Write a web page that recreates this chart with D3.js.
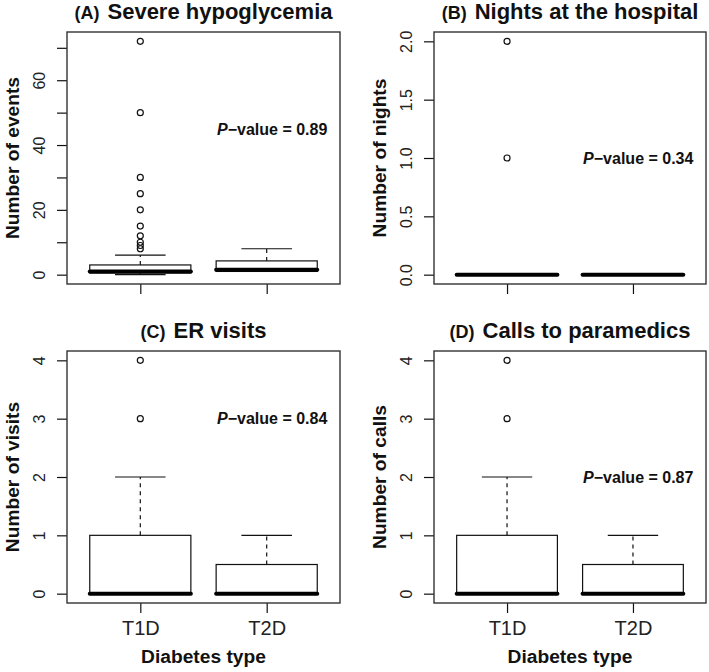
<!DOCTYPE html>
<html>
<head>
<meta charset="utf-8">
<script src="https://cdn.jsdelivr.net/npm/d3@7"></script>
<style>
  html, body { margin: 0; padding: 0; background: #fff; }
  svg { display: block; font-family: "Liberation Sans", Arial, Helvetica, sans-serif; }
</style>
</head>
<body>
<svg id="chart" width="709" height="672"></svg>
<script>
// ---- data ----
const groups = ["T1D", "T2D"];
const letters = ["(A)", "(B)", "(C)", "(D)"];
const titles = ["Severe hypoglycemia", "Nights at the hospital", "ER visits", "Calls to paramedics"];
const yLabels = ["Number of events", "Number of nights", "Number of visits", "Number of calls"];
const pValues = ["0.89", "0.34", "0.84", "0.87"];
const pValueY = [45, 1, 3, 2];
// box stats per group: [lower whisker, Q1, median, Q3, upper whisker]
const hypoStats = [[0, 0.5, 1, 3, 6], [1, 1, 1.5, 4.25, 8]];
const hypoOutliers = [[72, 50, 30, 25, 20, 15, 12, 10, 9, 8], []];
const nightsStats = [[0, 0, 0, 0, 0], [0, 0, 0, 0, 0]];
const nightsOutliers = [[2, 1], []];
const erStats = [[0, 0, 0, 1, 2], [0, 0, 0, 0.5, 1]];
const erOutliers = [[4, 3], []];
const callsStats = [[0, 0, 0, 1, 2], [0, 0, 0, 0.5, 1]];
const callsOutliers = [[4, 3], []];
const yTicks = [[0, 10, 20, 30, 40, 50, 60, 70], [0, 0.5, 1, 1.5, 2], [0, 1, 2, 3, 4], [0, 1, 2, 3, 4]];
const yTickLabels = [["0", "", "20", "", "40", "", "60", ""], ["0.0", "0.5", "1.0", "1.5", "2.0"], ["0", "1", "2", "3", "4"], ["0", "1", "2", "3", "4"]];
const yMax = [72, 2, 4, 4];

const statsList = [hypoStats, nightsStats, erStats, callsStats];
const outList = [hypoOutliers, nightsOutliers, erOutliers, callsOutliers];

// ---- layout ----
const panelX = [[67, 340], [434, 706], [67, 340], [434, 706]];
const panelY = [[32, 284], [32, 284], [351, 603], [351, 603]];
const showXLabels = [false, false, true, true];

const svg = d3.select("#chart");
const ink = "#111";

for (let p = 0; p < 4; p++) {
  const [x0, x1] = panelX[p];
  const [y0, y1] = panelY[p];
  const ext = yMax[p] * 0.04;
  const x = d3.scaleLinear().domain([0.42, 2.58]).range([x0, x1]);
  const y = d3.scaleLinear().domain([-ext, yMax[p] + ext]).range([y1, y0]);
  const g = svg.append("g");

  // y axis
  const yAxis = d3.axisLeft(y).tickValues(yTicks[p]).tickSize(10).tickSizeOuter(0)
    .tickFormat((d, i) => yTickLabels[p][i]);
  const ya = g.append("g").attr("transform", `translate(${x0},0)`).call(yAxis);
  ya.select(".domain").remove();
  ya.selectAll(".tick line").attr("stroke", ink).attr("stroke-width", 1.2);
  ya.selectAll(".tick text")
    .attr("x", 0).attr("dy", null)
    .attr("transform", "translate(-22,0) rotate(-90)")
    .attr("text-anchor", "middle")
    .attr("font-size", 16).attr("fill", "#222")
    .attr("font-family", "Liberation Sans, Arial, sans-serif");

  // x axis
  const xAxis = d3.axisBottom(x).tickValues([1, 2]).tickSize(10).tickSizeOuter(0)
    .tickFormat((d, i) => showXLabels[p] ? groups[i] : "");
  const xa = g.append("g").attr("transform", `translate(0,${y1})`).call(xAxis);
  xa.select(".domain").remove();
  xa.selectAll(".tick line").attr("stroke", ink).attr("stroke-width", 1.2);
  xa.selectAll(".tick text").attr("y", 32).attr("dy", null)
    .attr("font-size", 20).attr("fill", "#222")
    .attr("font-family", "Liberation Sans, Arial, sans-serif");

  // boxes
  statsList[p].forEach((s, i) => {
    const cx = x(i + 1);
    const [lo, q1, med, q3, hi] = s;
    const hw = x(1.4) - x(1);
    const cw = x(1.2) - x(1);
    // whiskers
    if (hi > q3) {
      g.append("line").attr("x1", cx).attr("x2", cx).attr("y1", y(q3)).attr("y2", y(hi))
        .attr("stroke", ink).attr("stroke-width", 1.2).attr("stroke-dasharray", "4,4");
    }
    if (lo < q1) {
      g.append("line").attr("x1", cx).attr("x2", cx).attr("y1", y(q1)).attr("y2", y(lo))
        .attr("stroke", ink).attr("stroke-width", 1.2).attr("stroke-dasharray", "4,4");
    }
    // caps
    [lo, hi].forEach(v => {
      g.append("line").attr("x1", cx - cw).attr("x2", cx + cw).attr("y1", y(v)).attr("y2", y(v))
        .attr("stroke", ink).attr("stroke-width", 1.2);
    });
    // box
    g.append("rect").attr("x", cx - hw).attr("width", 2 * hw)
      .attr("y", y(q3)).attr("height", Math.max(0, y(q1) - y(q3)))
      .attr("fill", "#fff").attr("stroke", ink).attr("stroke-width", 1.2);
    // median
    g.append("line").attr("x1", cx - hw).attr("x2", cx + hw).attr("y1", y(med)).attr("y2", y(med))
      .attr("stroke", "#000").attr("stroke-width", 4).attr("stroke-linecap", "round");
    // outliers
    outList[p][i].forEach(v => {
      g.append("circle").attr("cx", cx).attr("cy", y(v)).attr("r", 3)
        .attr("fill", "none").attr("stroke", ink).attr("stroke-width", 1.2);
    });
  });

  // frame
  g.append("rect").attr("x", x0).attr("y", y0).attr("width", x1 - x0).attr("height", y1 - y0)
    .attr("fill", "none").attr("stroke", "#333").attr("stroke-width", 1.4);

  // P-value
  const pt = g.append("text").attr("x", x(2.48)).attr("y", y(pValueY[p])).attr("dy", "0.36em")
    .attr("text-anchor", "end").attr("font-size", 16).attr("font-weight", "bold").attr("fill", "#111");
  pt.append("tspan").attr("font-style", "italic").text("P");
  pt.append("tspan").text("\u2212value = " + pValues[p]);

  // title
  const tt = g.append("text").attr("x", (x0 + x1) / 2).attr("y", y0 - 13)
    .attr("text-anchor", "middle").attr("font-weight", "bold").attr("fill", "#111");
  tt.append("tspan").attr("font-size", 18).text(letters[p]);
  tt.append("tspan").attr("font-size", 22).attr("dx", 8).text(titles[p]);

  // y label
  g.append("text").attr("transform", `translate(${x0 - 48},${(y0 + y1) / 2}) rotate(-90)`)
    .attr("text-anchor", "middle").attr("font-size", 19.2).attr("font-weight", "bold")
    .attr("fill", "#111").text(yLabels[p]);

  // x label
  if (showXLabels[p]) {
    g.append("text").attr("x", (x0 + x1) / 2).attr("y", y1 + 60)
      .attr("text-anchor", "middle").attr("font-size", 19.2).attr("font-weight", "bold")
      .attr("fill", "#111").text("Diabetes type");
  }
}
</script>
</body>
</html>
